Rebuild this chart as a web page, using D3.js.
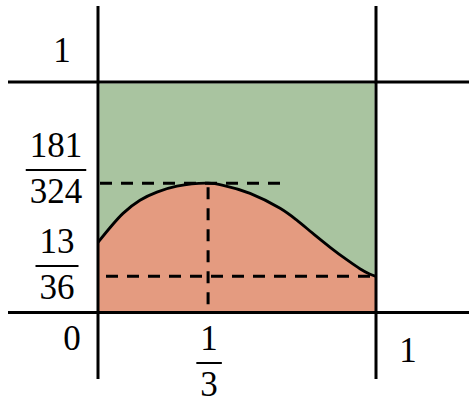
<!DOCTYPE html>
<html><head><meta charset="utf-8">
<script src="https://cdn.jsdelivr.net/npm/d3@7"></script>
<style>html,body{margin:0;padding:0;background:#fff;}svg{display:block;}</style>
</head><body>
<svg id="c" width="475" height="412"></svg>
<script>
// Curve points (x in [0,1], y in picture units where top line = 1)
const curveX = [0, 0.09, 0.151, 0.212, 0.284, 0.396, 0.45, 0.547, 0.655, 0.716, 0.773, 0.835, 0.896, 0.942, 0.975, 1];
const curveY = [0.304, 0.43, 0.487, 0.522, 0.548, 0.561, 0.552, 0.517, 0.452, 0.40, 0.343, 0.283, 0.228, 0.19, 0.168, 0.157];
const peakX = 0.396, peakY = 0.561, endY = 0.157;
const yTickVals = [1, peakY, endY, 0];
const yTickLabels = [["1"], ["181", "324"], ["13", "36"], ["0"]];
const xTickVals = [peakX, 1];
const xTickLabels = [["1", "3"], ["1"]];

const svg = d3.select("#c");
const x = d3.scaleLinear().domain([0, 1]).range([98, 376]);
const y = d3.scaleLinear().domain([0, 1]).range([312.5, 82]);
const pts = curveX.map((v, i) => [v, curveY[i]]);
const cv = d3.curveCatmullRom.alpha(0.5);

// green square
svg.append("rect").attr("x", x(0)+1.5).attr("y", y(1)+1.5)
  .attr("width", x(1)-x(0)-3).attr("height", y(0)-y(1)-3)
  .attr("fill", "#a9c4a0").attr("stroke", "#d6ead0").attr("stroke-width", 1);
// pink area
const area = d3.area().x(d => x(d[0])).y0(y(0)-1.5).y1(d => y(d[1])).curve(cv);
svg.append("path").datum(pts).attr("d", area).attr("fill", "#e49b80");

// dashed lines
const dash = "12,9";
svg.append("line").attr("x1", x(0)+2).attr("x2", 280).attr("y1", y(peakY)).attr("y2", y(peakY))
  .attr("stroke", "#000").attr("stroke-width", 3).attr("stroke-dasharray", dash);
svg.append("line").attr("x1", x(0)+8).attr("x2", x(1)).attr("y1", y(endY)).attr("y2", y(endY))
  .attr("stroke", "#000").attr("stroke-width", 3).attr("stroke-dasharray", dash);
svg.append("line").attr("x1", x(peakX)).attr("x2", x(peakX)).attr("y1", y(peakY)+4).attr("y2", y(0))
  .attr("stroke", "#000").attr("stroke-width", 3).attr("stroke-dasharray", dash);

// curve
const line = d3.line().x(d => x(d[0])).y(d => y(d[1])).curve(cv);
svg.append("path").datum(pts).attr("d", line).attr("fill", "none").attr("stroke", "#000").attr("stroke-width", 2.8);

// frame lines
[0, 1].forEach(v => {
  svg.append("line").attr("x1", x(v)).attr("x2", x(v)).attr("y1", 6).attr("y2", 379)
    .attr("stroke", "#000").attr("stroke-width", 3);
  svg.append("line").attr("x1", 8).attr("x2", 469).attr("y1", y(v)).attr("y2", y(v))
    .attr("stroke", "#000").attr("stroke-width", 3);
});

// labels
const font = "'Liberation Serif', 'DejaVu Serif', serif";
const fs = 35;
function label(cx, baseline, lines) {
  const g = svg.append("g");
  if (lines.length === 1) {
    g.append("text").attr("x", cx).attr("y", baseline).attr("text-anchor", "middle")
      .attr("font-family", font).attr("font-size", fs).text(lines[0]);
  } else {
    g.append("text").attr("x", cx).attr("y", baseline - 13).attr("text-anchor", "middle")
      .attr("font-family", font).attr("font-size", fs).text(lines[0]);
    g.append("text").attr("x", cx).attr("y", baseline + 33).attr("text-anchor", "middle")
      .attr("font-family", font).attr("font-size", fs).text(lines[1]);
    const w = Math.max(lines[0].length, lines[1].length) * fs * 0.5 + 8;
    g.append("line").attr("x1", cx - w/2).attr("x2", cx + w/2).attr("y1", baseline).attr("y2", baseline)
      .attr("stroke", "#000").attr("stroke-width", 2);
  }
}
label(62, 62, yTickLabels[0]);
label(56, 170, yTickLabels[1]);
label(57, 266, yTickLabels[2]);
label(72, 350, yTickLabels[3]);
label(x(xTickVals[0]) + 1, 363, xTickLabels[0]);
label(408, 362, xTickLabels[1]);
</script>
</body></html>
